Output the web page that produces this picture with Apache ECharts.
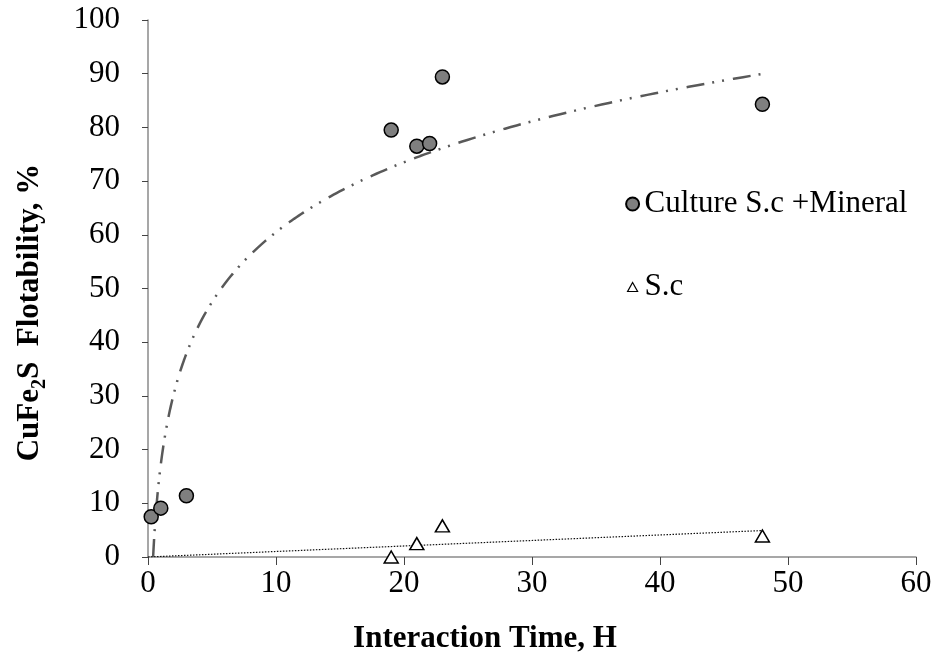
<!DOCTYPE html>
<html>
<head>
<meta charset="utf-8">
<script src="https://cdn.jsdelivr.net/npm/echarts@6/dist/echarts.min.js"></script>
<style>html,body{margin:0;padding:0;background:#fff;}#c{width:936px;height:659px;}</style>
</head>
<body>
<div id="c"></div>
<script>
// ---- data ----
var cultureX = [0.25, 1, 3, 19, 21, 22, 23, 48];
var cultureY = [7.5, 9.1, 11.4, 79.5, 76.5, 77.0, 89.4, 84.3];
var scX = [19, 21, 23, 48];
var scY = [0.0, 2.5, 5.8, 3.9];
var xTicks = [0, 10, 20, 30, 40, 50, 60];
var yTicks = [0, 10, 20, 30, 40, 50, 60, 70, 80, 90, 100];
var seriesNames = ['Culture S.c +Mineral', 'S.c'];
var xTitle = 'Interaction Time, H';

// ---- trendlines (least-squares fits of the data above, as in the source spreadsheet) ----
function logFit(xs, ys) {
  var n = xs.length, lx = xs.map(Math.log);
  var mx = lx.reduce(function(a,b){return a+b;},0)/n;
  var my = ys.reduce(function(a,b){return a+b;},0)/n;
  var sxx = 0, sxy = 0;
  for (var i=0;i<n;i++){ sxx += (lx[i]-mx)*(lx[i]-mx); sxy += (lx[i]-mx)*(ys[i]-my); }
  var a = sxy/sxx; return {a:a, b:my - a*mx};
}
function zeroInterceptSlope(xs, ys) {
  var sxy=0,sxx=0; for (var i=0;i<xs.length;i++){ sxy+=xs[i]*ys[i]; sxx+=xs[i]*xs[i]; }
  return sxy/sxx;
}
var lf = logFit(cultureX, cultureY);
var xStart = Math.exp(-lf.b/lf.a), xEnd = Math.max.apply(null, cultureX);
var logTrend = [];
for (var k=0;k<=300;k++){
  var t = k/300;
  var xv = Math.exp(Math.log(xStart) + t*(Math.log(xEnd)-Math.log(xStart)));
  logTrend.push([xv, lf.a*Math.log(xv)+lf.b]);
}
var slope = zeroInterceptSlope(scX, scY);
var scMax = Math.max.apply(null, scX);
var linTrend = [[0,0],[scMax, slope*scMax]];

var FONT = '"Liberation Serif","Times New Roman",serif';
var chart = echarts.init(document.getElementById('c'), null, {renderer:'canvas'});
chart.setOption({
  animation:false,
  backgroundColor:'#fff',
  grid:{left:148, right:20, top:20, bottom:102, containLabel:false},
  legend:{
    orient:'vertical', left:620, top:181, itemGap:47, itemWidth:14, itemHeight:13, itemTextGap:7,
    data:[{name:seriesNames[0], icon:'circle'},
          {name:seriesNames[1], icon:'path://M7,2 L12,11 L2,11 Z M0,0 M14,13', itemStyle:{color:'#fff', borderColor:'#000', borderWidth:1.2}}],
    textStyle:{fontFamily:FONT, fontSize:31, color:'#000', lineHeight:36}
  },
  xAxis:{
    type:'value', min:0, max:60, interval:10,
    name:xTitle, nameLocation:'middle', nameGap:66,
    nameTextStyle:{fontFamily:FONT, fontSize:31, fontWeight:'bold', color:'#000', padding:[0,94,0,0]},
    axisLine:{lineStyle:{color:'#8a8a8a', width:1.5}},
    axisTick:{length:8, lineStyle:{color:'#444', width:1}},
    axisLabel:{fontFamily:FONT, fontSize:31, color:'#000', margin:11, formatter:function(v){return xTicks.indexOf(v)>=0?String(v):'';}},
    splitLine:{show:false}
  },
  yAxis:{
    type:'value', min:0, max:100, interval:10,
    name:'CuFe{sub|2}S  Flotability, %', nameLocation:'middle', nameGap:98, nameRotate:90,
    nameTextStyle:{fontFamily:FONT, fontSize:31, fontWeight:'bold', color:'#000', lineHeight:40, padding:[0,48,0,0],
      rich:{sub:{fontFamily:FONT, fontSize:20, fontWeight:'bold', color:'#000', verticalAlign:'bottom', lineHeight:20}}},
    axisLine:{show:true, lineStyle:{color:'#8a8a8a', width:1.5}},
    axisTick:{show:true, length:6, lineStyle:{color:'#444', width:1}},
    axisLabel:{fontFamily:FONT, fontSize:31, color:'#000', margin:28, formatter:function(v){return yTicks.indexOf(v)>=0?String(v):'';}},
    splitLine:{show:false}
  },
  series:[
    {name:'logTrend', type:'line', data:logTrend, showSymbol:false, symbol:'none', z:1, silent:true,
     lineStyle:{color:'#595959', width:2.5, type:[18,8,2,8,2,9]}},
    {name:'linTrend', type:'line', data:linTrend, showSymbol:false, symbol:'none', z:1, silent:true,
     lineStyle:{color:'#111', width:1.2, type:[1.5,1.5]}},
    {name:seriesNames[0], type:'scatter', z:3, symbol:'circle', symbolSize:14,
     data:cultureX.map(function(x,i){return [x, cultureY[i]];}),
     itemStyle:{color:'#7f7f7f', borderColor:'#000', borderWidth:1.5, opacity:1}},
    {name:seriesNames[1], type:'scatter', z:3, symbol:'triangle', symbolSize:[14,12],
     data:scX.map(function(x,i){return [x, scY[i]];}),
     itemStyle:{color:'#fff', borderColor:'#000', borderWidth:1.5, opacity:1}}
  ]
});
</script>
</body>
</html>
